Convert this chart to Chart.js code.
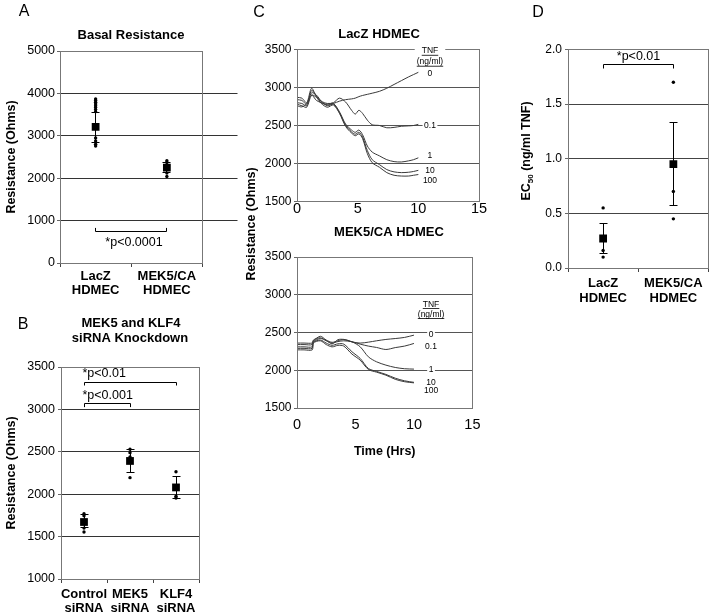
<!DOCTYPE html>
<html>
<head>
<meta charset="utf-8">
<script src="https://cdn.jsdelivr.net/npm/chart.js@4.4.1/dist/chart.umd.min.js"></script>
<style>
html,body{margin:0;padding:0;background:#fff;}
#wrap{position:relative;width:714px;height:616px;overflow:hidden;background:#fff;}
canvas{position:absolute;}
</style>
</head>
<body>
<div id="wrap">
<canvas id="chartA" width="245" height="305" style="left:0px;top:0px;width:245px;height:305px"></canvas>
<canvas id="chartB" width="245" height="311" style="left:0px;top:305px;width:245px;height:311px"></canvas>
<canvas id="chartC1" width="250" height="216" style="left:240px;top:0px;width:250px;height:216px"></canvas>
<canvas id="chartC2" width="250" height="320" style="left:240px;top:150px;width:250px;height:320px"></canvas>
<canvas id="chartD" width="224" height="310" style="left:490px;top:0px;width:224px;height:310px"></canvas>
</div>
<script>
// ---------------- DATA ----------------
// Panel A: basal resistance
const basalCategories = [['LacZ', 'HDMEC'], ['MEK5/CA', 'HDMEC']];
const basalMeans = [3210, 2250];
const basalErrHigh = [3555, 2365];
const basalErrLow = [2845, 2135];
const basalLacZPoints = [3870, 3830, 3790, 3750, 3710, 3670, 3620, 3570, 2950, 2880, 2800, 2760];
const basalMek5Points = [2410, 2370, 2120, 2040];

// Panel B: siRNA knockdown
const sirnaCategories = [['Control', 'siRNA'], ['MEK5', 'siRNA'], ['KLF4', 'siRNA']];
const sirnaMeans = [1672, 2392, 2080];
const sirnaErrHigh = [1765, 2526, 2212];
const sirnaErrLow = [1608, 2259, 1950];
const sirnaControlPoints = [1770, 1745, 1600, 1555];
const sirnaMek5Points = [2530, 2490, 2440, 2195];
const sirnaKlf4Points = [2265, 1975, 1955];

// Panel C: resistance time courses (TNF ng/ml)
const tnfDoses = ['0', '0.1', '1', '10', '100'];
const lacZTimes = [0, 0.4, 0.8, 1.2, 1.6, 2.0, 2.5, 3.0, 3.5, 4.0, 4.5, 4.8, 5.1, 5.4, 5.8, 6.2, 6.8, 7.4, 8.0, 8.6, 9.2, 9.6, 10];
const lacZTnf0   = [2760, 2745, 2790, 2900, 2830, 2800, 2770, 2790, 2820, 2840, 2850, 2860, 2880, 2895, 2910, 2925, 2950, 2990, 3040, 3090, 3140, 3170, 3200];
const lacZTnf01  = [2870, 2860, 2800, 2990, 2880, 2820, 2790, 2800, 2860, 2810, 2700, 2650, 2700, 2660, 2570, 2510, 2500, 2470, 2475, 2490, 2495, 2500, 2515];
const lacZTnf1   = [2800, 2790, 2760, 2960, 2890, 2800, 2780, 2790, 2680, 2520, 2440, 2410, 2440, 2380, 2230, 2150, 2100, 2050, 2025, 2020, 2035, 2050, 2075];
const lacZTnf10  = [2840, 2830, 2780, 2930, 2900, 2820, 2760, 2780, 2670, 2505, 2415, 2385, 2410, 2350, 2170, 2050, 1985, 1920, 1890, 1880, 1885, 1895, 1910];
const lacZTnf100 = [2780, 2760, 2740, 2900, 2870, 2790, 2740, 2770, 2660, 2490, 2400, 2365, 2390, 2330, 2130, 2010, 1950, 1880, 1845, 1835, 1835, 1845, 1855];

const mek5Times = [0, 0.6, 1.3, 1.4, 2.0, 2.5, 3.0, 3.5, 4.0, 4.7, 5.4, 6.1, 6.8, 7.6, 8.4, 9.2, 10];
const mek5Tnf0   = [2360, 2360, 2360, 2390, 2450, 2400, 2370, 2390, 2408, 2375, 2360, 2372, 2390, 2408, 2420, 2435, 2465];
const mek5Tnf01  = [2340, 2340, 2340, 2400, 2430, 2390, 2360, 2380, 2390, 2378, 2346, 2320, 2302, 2275, 2300, 2320, 2355];
const mek5Tnf1   = [2310, 2310, 2310, 2380, 2420, 2395, 2350, 2405, 2408, 2377, 2311, 2178, 2112, 2068, 2037, 2020, 2015];
const mek5Tnf10  = [2290, 2290, 2290, 2370, 2400, 2360, 2330, 2350, 2346, 2245, 2157, 2024, 1985, 1945, 1895, 1860, 1840];
const mek5Tnf100 = [2270, 2270, 2270, 2360, 2390, 2340, 2310, 2330, 2320, 2214, 2134, 2011, 1975, 1935, 1880, 1848, 1833];

// Panel D: EC50
const ec50Categories = [['LacZ', 'HDMEC'], ['MEK5/CA', 'HDMEC']];
const ec50Means = [0.27, 0.95];
const ec50ErrHigh = [0.41, 1.33];
const ec50ErrLow = [0.13, 0.57];
const ec50LacZPoints = [0.55, 0.16, 0.10];
const ec50Mek5Points = [1.70, 0.70, 0.45];

// ---------------- RENDERING ----------------
const FONT = '"Liberation Sans", Arial, Helvetica, sans-serif';
const fnt = (size, bold) => (bold ? 'bold ' : '') + size + 'px ' + FONT;
Chart.defaults.font.family = FONT;
Chart.defaults.color = '#000';
Chart.defaults.animation = false;
Chart.defaults.events = [];
Chart.defaults.plugins.legend.display = false;
Chart.defaults.plugins.tooltip.enabled = false;

const CLEAR = 'rgba(0,0,0,0)';
const isInt = v => Math.abs(v - Math.round(v)) < 1e-6;
const align = p => Math.round(p - 0.5) + 0.5;
const gridColor = col => c => (c.tick && (Math.abs(c.tick.value - c.scale.min) < 1e-9 || Math.abs(c.tick.value - c.scale.max) < 1e-9)) ? CLEAR : col;

function drawText(ctx, chart, t) {
  let px = t.x, py = t.y;
  if (t.data) { px = chart.scales.x.getPixelForValue(t.x); py = chart.scales.y.getPixelForValue(t.y); }
  const size = t.size || 13;
  ctx.save();
  ctx.translate(px, py);
  if (t.rot) ctx.rotate(t.rot);
  ctx.textBaseline = 'middle';
  ctx.textAlign = 'left';
  const parts = t.parts || [{ text: t.text, size: size, dy: 0 }];
  let w = 0;
  parts.forEach(p => { ctx.font = fnt(p.size, t.bold); p.w = ctx.measureText(p.text).width; w += p.w; });
  let x0 = (t.align === 'left') ? 0 : (t.align === 'right') ? -w : -w / 2;
  if (t.bg) {
    const padX = (t.bgPadX != null) ? t.bgPadX : 1.5;
    const h = size + 2;
    ctx.fillStyle = '#fff';
    ctx.fillRect(x0 - padX, -h / 2, w + 2 * padX, h);
  }
  ctx.fillStyle = '#000';
  let cx = x0;
  parts.forEach(p => { ctx.font = fnt(p.size, t.bold); ctx.fillText(p.text, cx, p.dy || 0); cx += p.w; });
  if (t.underline) ctx.fillRect(x0, size * 0.45, w, 0.8);
  ctx.restore();
}

const figurePlugin = {
  id: 'figure',
  beforeDatasetsDraw(chart, args, o) {
    const { ctx, scales: { x, y } } = chart;
    chart.data.datasets.forEach(ds => {
      if (!ds.errHigh) return;
      ctx.save();
      ctx.strokeStyle = '#000';
      ctx.lineWidth = 1;
      ds.data.forEach((pt, i) => {
        const px = align(x.getPixelForValue(pt.x));
        const hi = align(y.getPixelForValue(ds.errHigh[i]));
        const lo = align(y.getPixelForValue(ds.errLow[i]));
        const cap = o.cap || 4;
        ctx.beginPath();
        ctx.moveTo(px, hi); ctx.lineTo(px, lo);
        ctx.moveTo(px - cap, hi); ctx.lineTo(px + cap, hi);
        ctx.moveTo(px - cap, lo); ctx.lineTo(px + cap, lo);
        ctx.stroke();
      });
      ctx.restore();
    });
  },
  afterDraw(chart, args, o) {
    const { ctx, chartArea: a, scales: { x, y } } = chart;
    ctx.save();
    ctx.lineWidth = 1;
    if (o.extendGrid) {
      ctx.strokeStyle = o.gridColor;
      y.ticks.forEach(tk => {
        if (tk.value <= y.min || tk.value >= y.max) return;
        const py = align(y.getPixelForValue(tk.value));
        ctx.beginPath(); ctx.moveTo(a.right, py); ctx.lineTo(a.right + o.extendGrid, py); ctx.stroke();
      });
    }
    ctx.strokeStyle = o.frameColor || '#777';
    const L = align(a.left), T = align(a.top), R = align(a.right), B = align(a.bottom);
    ctx.strokeRect(L, T, R - L, B - T);
    ctx.strokeStyle = '#000';
    (o.brackets || []).forEach(b => {
      const x1 = align(x.getPixelForValue(b.from)), x2 = align(x.getPixelForValue(b.to));
      const yb = align(y.getPixelForValue(b.y)), ye = y.getPixelForValue(b.yEnd);
      ctx.beginPath();
      ctx.moveTo(x1, ye); ctx.lineTo(x1, yb); ctx.lineTo(x2, yb); ctx.lineTo(x2, ye);
      ctx.stroke();
      const lx = (b.labelAlign === 'left') ? x1 + (b.labelDx || 0) : (x1 + x2) / 2 + (b.labelDx || 0);
      drawText(ctx, chart, { text: b.label, x: lx, y: y.getPixelForValue(b.labelY), size: 12.5, align: b.labelAlign || 'center' });
    });
    (o.texts || []).forEach(t => drawText(ctx, chart, t));
    ctx.restore();
  }
};

function catChart(id, cfg) {
  const n = cfg.categories.length;
  const pts = [];
  cfg.points.forEach((arr, i) => arr.forEach(v => pts.push({ x: i, y: v })));
  return new Chart(document.getElementById(id), {
    type: 'scatter',
    data: {
      datasets: [
        { label: 'Mean', data: cfg.means.map((v, i) => ({ x: i, y: v })), errHigh: cfg.errHigh, errLow: cfg.errLow,
          pointStyle: 'rect', pointRadius: 5.5, backgroundColor: '#000', borderWidth: 0 },
        { label: 'Individual', data: pts, pointStyle: 'circle', pointRadius: 1.7, backgroundColor: '#000', borderWidth: 0 }
      ]
    },
    options: {
      responsive: false,
      layout: { padding: { top: cfg.padTop, right: cfg.padRight, left: 0, bottom: 0 } },
      scales: {
        x: {
          type: 'linear', min: -0.5, max: n - 0.5, border: { display: false },
          afterFit: s => { s.height = cfg.xh; },
          ticks: { stepSize: 0.5, autoSkip: false, maxRotation: 0, padding: cfg.xPad,
                   font: { size: 13, weight: 'bold', lineHeight: cfg.xLH },
                   callback: v => isInt(v) ? cfg.categories[Math.round(v)] : '' },
          grid: { drawOnChartArea: false, drawTicks: true, tickLength: 4, color: CLEAR,
                  tickColor: c => isInt(c.tick.value) ? CLEAR : '#444' }
        },
        y: {
          min: cfg.yMin, max: cfg.yMax, border: { display: false },
          afterFit: s => { s.width = cfg.yw; },
          ticks: { stepSize: cfg.yStep, padding: cfg.yPad, font: { size: cfg.yFont }, callback: cfg.yFmt },
          grid: { color: gridColor(cfg.gridCol), tickColor: '#666', tickLength: 3 },
          title: cfg.yTitle ? { display: true, text: cfg.yTitle, font: { size: 12.5, weight: 'bold' }, padding: { top: 4, bottom: 0 } } : { display: false }
        }
      },
      plugins: { figure: cfg.figure }
    },
    plugins: [figurePlugin]
  });
}

function timeChart(id, cfg) {
  const datasets = cfg.series.map((vals, k) => ({
    label: tnfDoses[k] + ' ng/ml TNF',
    data: cfg.times.map((t, i) => ({ x: t, y: vals[i] })),
    showLine: true, pointRadius: 0, borderColor: '#3a3a3a', borderWidth: 1, tension: 0.3
  }));
  return new Chart(document.getElementById(id), {
    type: 'scatter',
    data: { datasets },
    options: {
      responsive: false,
      layout: { padding: { top: cfg.padTop, right: cfg.padRight, left: 0, bottom: 0 } },
      scales: {
        x: {
          type: 'linear', min: 0, max: 15, border: { display: false },
          afterFit: s => { s.height = cfg.xh; },
          ticks: { stepSize: 5, padding: cfg.xPad, font: { size: 14.5, lineHeight: 1 } },
          grid: { drawOnChartArea: false, drawTicks: false },
          title: cfg.xTitle ? { display: true, text: cfg.xTitle, font: { size: 12.5, weight: 'bold' }, padding: { top: 0, bottom: 10.5 } } : { display: false }
        },
        y: {
          min: 1500, max: 3500, border: { display: false },
          afterFit: s => { s.width = 57; },
          ticks: { stepSize: 500, padding: 2.5, font: { size: 12 }, callback: v => String(v) },
          grid: { color: gridColor('#555'), tickColor: '#666', tickLength: 3 }
        }
      },
      plugins: { figure: cfg.figure }
    },
    plugins: [figurePlugin]
  });
}

// Panel A
catChart('chartA', {
  categories: basalCategories, means: basalMeans, errHigh: basalErrHigh, errLow: basalErrLow,
  points: [basalLacZPoints, basalMek5Points],
  padTop: 51, padRight: 42.5, xh: 42, yw: 60, xPad: 2, xLH: 1.077,
  yMin: 0, yMax: 5000, yStep: 1000, yPad: 2, yFont: 12.5, yFmt: v => String(v), gridCol: '#333',
  yTitle: 'Resistance (Ohms)',
  figure: {
    frameColor: '#777', gridColor: '#333', extendGrid: 35,
    brackets: [{ from: 0, to: 1, y: 733, yEnd: 827, label: '*p<0.0001', labelY: 473, labelDx: 3 }],
    texts: [
      { text: 'A', x: 24, y: 12, size: 16 },
      { text: 'Basal Resistance', x: 131, y: 35, size: 13, bold: true }
    ]
  }
});

// Panel B
catChart('chartB', {
  categories: sirnaCategories, means: sirnaMeans, errHigh: sirnaErrHigh, errLow: sirnaErrLow,
  points: [sirnaControlPoints, sirnaMek5Points, sirnaKlf4Points],
  padTop: 62, padRight: 46, xh: 37, yw: 61, xPad: 5, xLH: 1.05,
  yMin: 1000, yMax: 3500, yStep: 500, yPad: 3, yFont: 12.5, yFmt: v => String(v), gridCol: '#333',
  yTitle: 'Resistance (Ohms)',
  figure: {
    frameColor: '#777',
    brackets: [
      { from: 0, to: 2, y: 3318, yEnd: 3282, label: '*p<0.01', labelY: 3427, labelAlign: 'left', labelDx: -2 },
      { from: 0, to: 1, y: 3074, yEnd: 3027, label: '*p<0.001', labelY: 3165, labelAlign: 'left', labelDx: -2 }
    ],
    texts: [
      { text: 'B', x: 23, y: 20, size: 16 },
      { text: 'MEK5 and KLF4', x: 131, y: 18, size: 13, bold: true },
      { text: 'siRNA Knockdown', x: 130, y: 33, size: 13, bold: true }
    ]
  }
});

// Panel C (top: LacZ)
const labelSize = 8.5;
timeChart('chartC1', {
  times: lacZTimes, series: [lacZTnf0, lacZTnf01, lacZTnf1, lacZTnf10, lacZTnf100],
  padTop: 49.5, padRight: 11, xh: 14.5, xPad: 0,
  figure: {
    frameColor: '#777',
    texts: [
      { text: 'C', x: 19, y: 13, size: 16 },
      { text: 'LacZ HDMEC', x: 139, y: 34, size: 13, bold: true },
      { text: 'TNF', x: 10.96, y: 3480, data: true, size: labelSize, underline: true, bg: true, bgPadX: 7 },
      { text: '(ng/ml)', x: 10.96, y: 3336, data: true, size: labelSize, underline: true, bg: true, bgPadX: 3 },
      { text: tnfDoses[0], x: 10.96, y: 3178, data: true, size: labelSize, bg: true },
      { text: tnfDoses[1], x: 10.96, y: 2500, data: true, size: labelSize, bg: true },
      { text: tnfDoses[2], x: 10.96, y: 2103, data: true, size: labelSize, bg: true },
      { text: tnfDoses[3], x: 10.96, y: 1905, data: true, size: labelSize, bg: true },
      { text: tnfDoses[4], x: 10.96, y: 1774, data: true, size: labelSize, bg: true }
    ]
  }
});

// Panel C (bottom: MEK5/CA)
timeChart('chartC2', {
  times: mek5Times, series: [mek5Tnf0, mek5Tnf01, mek5Tnf1, mek5Tnf10, mek5Tnf100],
  padTop: 107, padRight: 11, xh: 62, xPad: 9.5, xTitle: 'Time (Hrs)',
  figure: {
    frameColor: '#777',
    texts: [
      { text: 'MEK5/CA HDMEC', x: 149, y: 82, size: 13, bold: true },
      { text: 'Resistance (Ohms)', x: 12, y: 74, size: 12.5, bold: true, rot: -Math.PI / 2 },
      { text: 'TNF', x: 11.46, y: 2874, data: true, size: labelSize, underline: true, bg: true },
      { text: '(ng/ml)', x: 11.46, y: 2741, data: true, size: labelSize, underline: true, bg: true },
      { text: tnfDoses[0], x: 11.46, y: 2467, data: true, size: labelSize, bg: true },
      { text: tnfDoses[1], x: 11.46, y: 2312, data: true, size: labelSize, bg: true },
      { text: tnfDoses[2], x: 11.46, y: 2003, data: true, size: labelSize, bg: true },
      { text: tnfDoses[3], x: 11.46, y: 1835, data: true, size: labelSize, bg: true },
      { text: tnfDoses[4], x: 11.46, y: 1729, data: true, size: labelSize, bg: true }
    ]
  }
});

// Panel D
catChart('chartD', {
  categories: ec50Categories, means: ec50Means, errHigh: ec50ErrHigh, errLow: ec50ErrLow,
  points: [ec50LacZPoints, ec50Mek5Points],
  padTop: 49.5, padRight: 5, xh: 42, yw: 78, xPad: 3.5, xLH: 1.154,
  yMin: 0, yMax: 2, yStep: 0.5, yPad: 3, yFont: 12, yFmt: v => v.toFixed(1), gridCol: '#444',
  yTitle: null,
  figure: {
    frameColor: '#777',
    brackets: [{ from: 0, to: 1, y: 1.862, yEnd: 1.826, label: '*p<0.01', labelY: 1.936 }],
    texts: [
      { text: 'D', x: 48, y: 13, size: 16 },
      { x: 37, y: 151, size: 12.5, bold: true, rot: -Math.PI / 2,
        parts: [{ text: 'EC', size: 12.5, dy: 0 }, { text: '50', size: 8, dy: 3.5 }, { text: ' (ng/ml TNF)', size: 12.5, dy: 0 }] }
    ]
  }
});
</script>
</body>
</html>
